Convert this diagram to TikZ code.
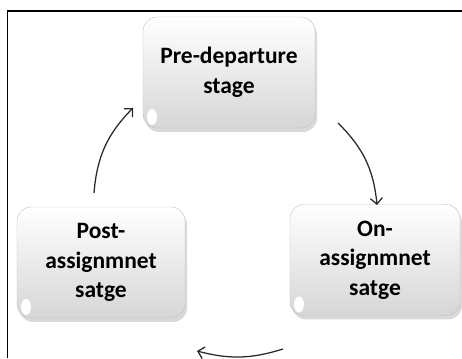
\documentclass[tikz,border=0pt]{standalone}
\usepackage{fontspec}
\setmainfont{Carlito}
\usetikzlibrary{arrows.meta,shadows}

\begin{document}
\begin{tikzpicture}[x=1pt,y=1pt,
   stagebox/.style={draw=gray!50, rounded corners=14pt, top color=white, bottom color=gray!32,
      drop shadow={shadow xshift=2pt, shadow yshift=-4pt, opacity=0.3},
      text width=150pt, align=center, font=\fontsize{23.5}{29.5}\selectfont\bfseries,
      minimum height=111pt, inner sep=0pt,
      path picture={\fill[white] ([shift={(9pt,11pt)}]path picture bounding box.south west) ellipse (5pt and 8pt);}},
   cyc/.style={-{Straight Barb[length=6pt,width=12pt]}, line width=1.25pt, black!85}]
   \useasboundingbox (0,0) rectangle (462,358);
   \draw[line width=1.4pt] (7.5,0) -- (7.5,347) -- (462,347);
   \node[stagebox, minimum width=172pt] (pre)  at (229,285.5) {Pre-departure\\stage};
   \node[stagebox, minimum width=168pt] (post) at (101,95.5)  {Post-\\assignmnet\\satge};
   \node[stagebox, minimum width=170pt] (on)   at (375,98)    {On-\\assignmnet\\satge};
   \coordinate (p1) at (94,165);  \coordinate (p2) at (133,250);
   \coordinate (p3) at (338,235); \coordinate (p4) at (377,153);
   \coordinate (p5) at (283,9);   \coordinate (p6) at (197,7);
   \draw[cyc] (p1) to[bend left=20] (p2);
   \draw[cyc] (p3) to[bend left=20] (p4);
   \draw[cyc] (p5) to[bend left=16] (p6);
\end{tikzpicture}
\end{document}
